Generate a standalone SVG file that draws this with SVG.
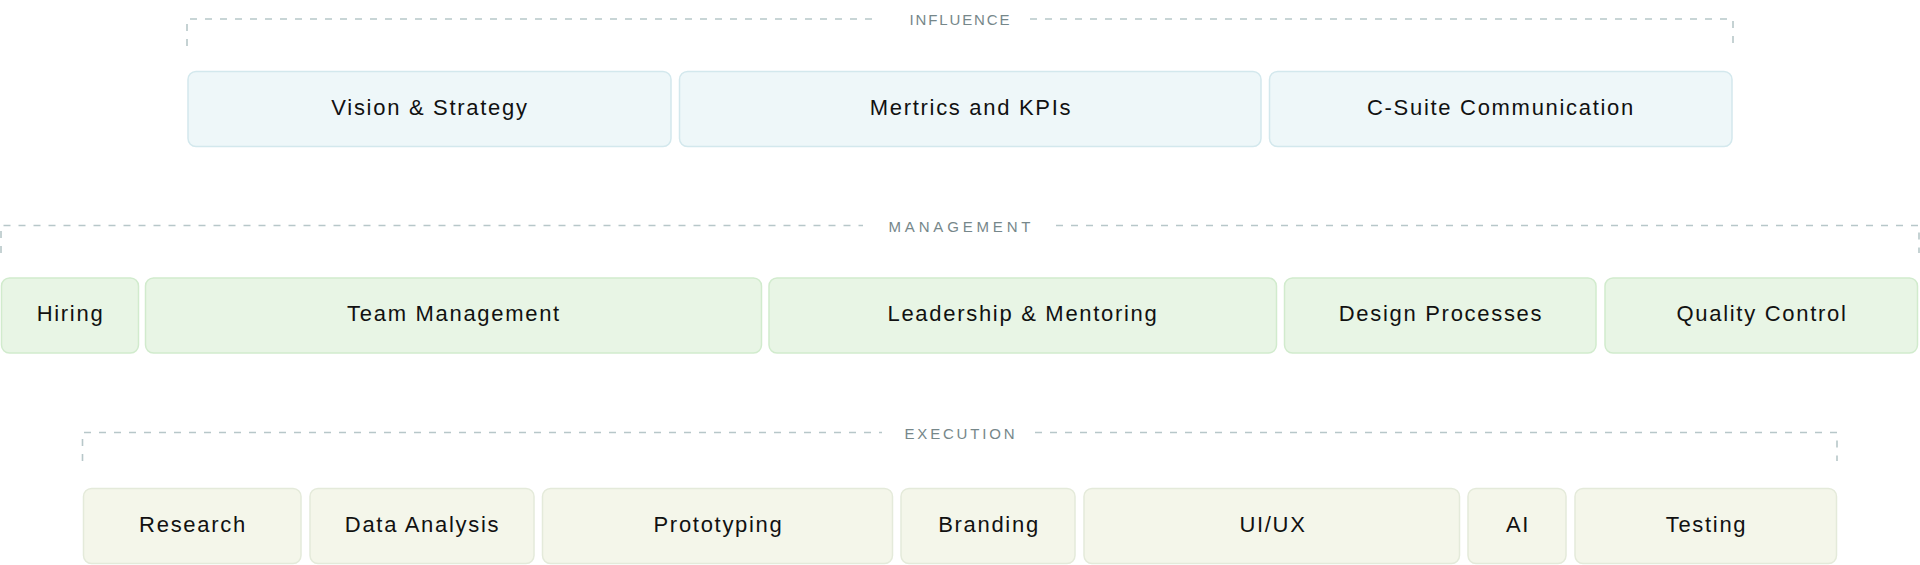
<svg xmlns="http://www.w3.org/2000/svg" width="1920" height="565" viewBox="0 0 1920 565">
<style>
.bg{fill:#ffffff}
.frame{fill:none;stroke:#b7c7c9;stroke-width:1.6;stroke-dasharray:7 8}
.lbl{font-family:"Liberation Sans",Arial,sans-serif;font-size:15px;fill:#76878a;text-anchor:middle}
.t{font-family:"Liberation Sans",Arial,sans-serif;font-size:22px;fill:#111111;text-anchor:middle;letter-spacing:1.7px}
.inf{fill:#eef7f9;stroke:#d3e8ed;stroke-width:1.5}
.mgt{fill:#e8f5e5;stroke:#d1ebcd;stroke-width:1.5}
.exe{fill:#f4f6ea;stroke:#e4eada;stroke-width:1.5}
</style>
<rect class="bg" x="0" y="0" width="1920" height="565"/>
<g id="connectors">
  <path class="frame" d="M187,46 V19 H877"/>
  <path class="frame" d="M1030,19 H1733 V46"/>
  <path class="frame" d="M1,253 V225.5 H863"/>
  <path class="frame" d="M1056,225.5 H1919 V253"/>
  <path class="frame" d="M82.5,461 V432.5 H882"/>
  <path class="frame" d="M1035,432.5 H1837 V461"/>
</g>
<g id="section-labels">
  <text class="lbl" x="959.5" y="25" textLength="100" lengthAdjust="spacing">INFLUENCE</text>
  <text class="lbl" x="959.5" y="231.5" textLength="142" lengthAdjust="spacing">MANAGEMENT</text>
  <text class="lbl" x="959.5" y="438.5" textLength="110" lengthAdjust="spacing">EXECUTION</text>
</g>
<g id="vision-strategy"><rect class="inf" x="188" y="71.5" width="483" height="75" rx="8"/><text class="t" x="430" y="114.5">Vision &amp; Strategy</text></g>
<g id="metrics-kpis"><rect class="inf" x="679.5" y="71.5" width="581.5" height="75" rx="8"/><text class="t" x="971" y="114.5">Mertrics and KPIs</text></g>
<g id="c-suite"><rect class="inf" x="1269.5" y="71.5" width="462.5" height="75" rx="8"/><text class="t" x="1501" y="114.5">C-Suite Communication</text></g>

<g id="hiring"><rect class="mgt" x="1.5" y="278" width="137" height="75" rx="8"/><text class="t" x="70.5" y="321">Hiring</text></g>
<g id="team-management"><rect class="mgt" x="145.5" y="278" width="616" height="75" rx="8"/><text class="t" x="454" y="321">Team Management</text></g>
<g id="leadership"><rect class="mgt" x="769" y="278" width="507.5" height="75" rx="8"/><text class="t" x="1023" y="321">Leadership &amp; Mentoring</text></g>
<g id="design-processes"><rect class="mgt" x="1284.5" y="278" width="311.5" height="75" rx="8"/><text class="t" x="1441" y="321">Design Processes</text></g>
<g id="quality-control"><rect class="mgt" x="1605" y="278" width="312.5" height="75" rx="8"/><text class="t" x="1762" y="321">Quality Control</text></g>

<g id="research"><rect class="exe" x="83.5" y="488.5" width="217.5" height="75" rx="8"/><text class="t" x="193" y="531.5">Research</text></g>
<g id="data-analysis"><rect class="exe" x="310" y="488.5" width="224" height="75" rx="8"/><text class="t" x="422.5" y="531.5">Data Analysis</text></g>
<g id="prototyping"><rect class="exe" x="542.5" y="488.5" width="350" height="75" rx="8"/><text class="t" x="718.5" y="531.5">Prototyping</text></g>
<g id="branding"><rect class="exe" x="901" y="488.5" width="174" height="75" rx="8"/><text class="t" x="989" y="531.5">Branding</text></g>
<g id="ui-ux"><rect class="exe" x="1084" y="488.5" width="375.5" height="75" rx="8"/><text class="t" x="1273" y="531.5">UI/UX</text></g>
<g id="ai"><rect class="exe" x="1468" y="488.5" width="98" height="75" rx="8"/><text class="t" x="1518" y="531.5">AI</text></g>
<g id="testing"><rect class="exe" x="1575" y="488.5" width="261.5" height="75" rx="8"/><text class="t" x="1706.5" y="531.5">Testing</text></g>
</svg>
